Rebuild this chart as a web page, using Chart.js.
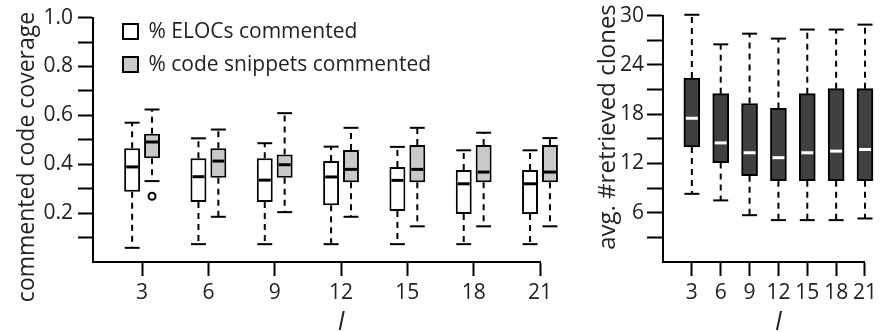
<!DOCTYPE html>
<html><head><meta charset="utf-8">
<script src="https://cdn.jsdelivr.net/npm/chart.js@4/dist/chart.umd.min.js"></script>
<style>
html,body{margin:0;padding:0;background:#fff;}
#wrap{position:relative;width:881px;height:332px;overflow:hidden;}
#c1{position:absolute;left:0;top:0;}
#c2{position:absolute;left:570px;top:0;}
</style></head><body>
<div id="wrap">
<canvas id="c1" width="570" height="332"></canvas>
<canvas id="c2" width="311" height="332"></canvas>
</div>
<script>
// ---- data ----
const lValues = [3, 6, 9, 12, 15, 18, 21];

// % ELOCs commented (white boxes)
const elocMin = [0.058, 0.073, 0.073, 0.073, 0.073, 0.073, 0.073];
const elocQ1  = [0.287, 0.245, 0.245, 0.232, 0.209, 0.196, 0.196];
const elocMed = [0.389, 0.349, 0.335, 0.348, 0.334, 0.320, 0.320];
const elocQ3  = [0.465, 0.425, 0.425, 0.413, 0.389, 0.376, 0.376];
const elocMax = [0.570, 0.506, 0.486, 0.472, 0.471, 0.457, 0.457];

// % code snippets commented (grey boxes)
const snipMin = [0.331, 0.185, 0.204, 0.185, 0.146, 0.146, 0.146];
const snipQ1  = [0.425, 0.345, 0.345, 0.326, 0.326, 0.326, 0.326];
const snipMed = [0.491, 0.413, 0.398, 0.379, 0.379, 0.368, 0.368];
const snipQ3  = [0.525, 0.465, 0.440, 0.458, 0.479, 0.479, 0.479];
const snipMax = [0.624, 0.542, 0.609, 0.549, 0.549, 0.529, 0.507];
const snipOutliers = [{ l: 3, value: 0.269 }];

// avg. #retrieved clones
const cloneMin = [8.3, 7.5, 5.7, 5.1, 5.1, 5.1, 5.3];
const cloneQ1  = [14.0, 12.1, 10.5, 9.9, 9.9, 9.9, 9.9];
const cloneMed = [17.5, 14.5, 13.3, 12.7, 13.3, 13.5, 13.7];
const cloneQ3  = [22.4, 20.5, 19.3, 18.7, 20.5, 21.1, 21.1];
const cloneMax = [30.1, 26.5, 27.8, 27.2, 28.3, 28.3, 28.9];

// tick labels
const leftYLabels  = [0.2, 0.4, 0.6, 0.8, 1.0];
const leftYMinor   = [0.1, 0.3, 0.5, 0.7, 0.9];
const rightYLabels = [6, 12, 18, 24, 30];
const rightYMinor  = [3, 9, 15, 21, 27];

const seriesLabels = ['% ELOCs commented', '% code snippets commented'];
const leftYTitle = 'commented code coverage';
const rightYTitle = 'avg. #retrieved clones';
const xTitle = 'l';

// ---- styling ----
const FONT = "'Open Sans', 'Noto Sans', sans-serif";
const TXT = '#222';

function boxData(q1, q3) { return lValues.map((l, i) => ({ x: l, y: [q1[i], q3[i]] })); }

const boxPlugin = {
  id: 'boxWhiskers',
  beforeDatasetsDraw(chart) {
    const ctx = chart.ctx, ys = chart.scales.y;
    chart.data.datasets.forEach((ds, di) => {
      if (!ds.stats) return;
      chart.getDatasetMeta(di).data.forEach((el, i) => {
        const { x, width } = el.getProps(['x', 'width'], true);
        const pMin = ys.getPixelForValue(ds.stats.min[i]);
        const pMax = ys.getPixelForValue(ds.stats.max[i]);
        const pQ1 = ys.getPixelForValue(ds.stats.q1[i]);
        const pQ3 = ys.getPixelForValue(ds.stats.q3[i]);
        ctx.save();
        ctx.strokeStyle = '#000'; ctx.lineWidth = 2;
        ctx.setLineDash([6, 5]);
        ctx.beginPath(); ctx.moveTo(x, pQ3); ctx.lineTo(x, pMax); ctx.stroke();
        ctx.beginPath(); ctx.moveTo(x, pQ1); ctx.lineTo(x, pMin); ctx.stroke();
        ctx.setLineDash([]);
        const hw = width / 2 - 0.5;
        ctx.beginPath(); ctx.moveTo(x - hw, pMax); ctx.lineTo(x + hw, pMax); ctx.stroke();
        ctx.beginPath(); ctx.moveTo(x - hw, pMin); ctx.lineTo(x + hw, pMin); ctx.stroke();
        ctx.restore();
      });
    });
  },
  afterDatasetsDraw(chart) {
    const ctx = chart.ctx, ys = chart.scales.y;
    chart.data.datasets.forEach((ds, di) => {
      if (!ds.stats) return;
      const els = chart.getDatasetMeta(di).data;
      els.forEach((el, i) => {
        const { x, width } = el.getProps(['x', 'width'], true);
        const pMed = ys.getPixelForValue(ds.stats.med[i]);
        ctx.save();
        ctx.strokeStyle = ds.medianColor; ctx.lineWidth = 3;
        ctx.beginPath(); ctx.moveTo(x - width / 2 + 2, pMed); ctx.lineTo(x + width / 2 - 2, pMed); ctx.stroke();
        ctx.restore();
      });
      (ds.outliers || []).forEach(o => {
        const el = els[lValues.indexOf(o.l)];
        if (!el) return;
        ctx.save();
        ctx.beginPath();
        ctx.arc(el.x, ys.getPixelForValue(o.value), 3.5, 0, Math.PI * 2);
        ctx.fillStyle = '#fff'; ctx.fill();
        ctx.lineWidth = 2; ctx.strokeStyle = '#000'; ctx.stroke();
        ctx.restore();
      });
    });
  }
};

const titlesPlugin = {
  id: 'axisTexts',
  afterDraw(chart, args, opts) {
    const ctx = chart.ctx, xs = chart.scales.x;
    ctx.save();
    ctx.fillStyle = TXT;
    ctx.save();
    ctx.translate(opts.yTitleX, opts.yTitleY);
    ctx.rotate(-Math.PI / 2);
    ctx.font = opts.yTitleSize + 'px ' + FONT;
    ctx.textAlign = 'center'; ctx.textBaseline = 'middle';
    ctx.fillText(opts.yTitle, 0, 0);
    ctx.restore();
    const cx = (xs.getPixelForValue(lValues[0]) + xs.getPixelForValue(lValues[lValues.length - 1])) / 2;
    ctx.font = 'italic 25px ' + FONT;
    ctx.textAlign = 'center'; ctx.textBaseline = 'alphabetic';
    ctx.fillText(xTitle, cx, opts.xTitleBaseline);
    ctx.restore();
  }
};

const legendPlace = {
  id: 'legendPlace',
  afterLayout(chart, args, opts) {
    const lg = chart.legend;
    if (!lg || !opts.enabled) return;
    const ca = chart.chartArea;
    const w = lg.width;
    lg.left = ca.left + opts.dx; lg.top = ca.top + opts.dy;
    lg.right = lg.left + w; lg.bottom = ca.bottom;
    lg.height = lg.bottom - lg.top; lg.width = w;
  }
};

function xAxis(min) {
  return {
    type: 'linear', min: min, max: 21, offset: false,
    afterBuildTicks: s => { s.ticks = lValues.map(v => ({ value: v })); },
    afterFit: s => { s.height = 70; },
    ticks: { autoSkip: false, maxRotation: 0, padding: 4, color: TXT, font: { family: FONT, size: 21 }, callback: v => String(v) },
    grid: { display: true, offset: false, drawOnChartArea: false, drawTicks: true, tickLength: 14, tickWidth: 2, tickColor: '#000' },
    border: { display: true, color: '#000', width: 2 }
  };
}
function yAxis(max, minor, labels, fmt, tickLen, pad) {
  return {
    min: 0, max: max,
    afterBuildTicks: s => { s.ticks = minor.concat(labels).sort((a, b) => a - b).map(v => ({ value: v })); },
    afterFit: s => { s.width = 93; },
    ticks: { autoSkip: false, padding: pad, color: TXT, font: { family: FONT, size: 21 },
             callback: v => labels.includes(v) ? fmt(v) : '' },
    grid: { display: true, offset: false, drawOnChartArea: false, drawTicks: true, tickLength: tickLen, tickWidth: 2, tickColor: '#000' },
    border: { display: true, color: '#000', width: 2 }
  };
}

// ---- left chart ----
new Chart(document.getElementById('c1'), {
  type: 'bar',
  data: {
    datasets: [
      {
        label: seriesLabels[0], data: boxData(elocQ1, elocQ3), clip: false,
        backgroundColor: '#ffffff', borderColor: '#000', borderWidth: 2, borderSkipped: false,
        medianColor: '#000',
        stats: { min: elocMin, q1: elocQ1, med: elocMed, q3: elocQ3, max: elocMax }
      },
      {
        label: seriesLabels[1], data: boxData(snipQ1, snipQ3), clip: false,
        backgroundColor: '#c9c9c9', borderColor: '#000', borderWidth: 2, borderSkipped: false,
        medianColor: '#000', outliers: snipOutliers,
        stats: { min: snipMin, q1: snipQ1, med: snipMed, q3: snipQ3, max: snipMax }
      }
    ]
  },
  options: {
    responsive: false, animation: false, devicePixelRatio: 1,
    categoryPercentage: 0.6, barPercentage: 0.8,
    layout: { padding: { left: 0, top: 15, right: 30, bottom: 0 } },
    scales: {
      x: xAxis(0.78),
      y: yAxis(1, leftYMinor, leftYLabels, v => v.toFixed(1), 15, 5)
    },
    plugins: {
      legend: {
        display: true, position: 'chartArea', align: 'start',
        labels: { boxWidth: 15, boxHeight: 15, padding: 12, color: TXT, font: { family: FONT, size: 21 } }
      },
      legendPlace: { enabled: true, dx: 18, dy: -8.5 },
      tooltip: { enabled: false },
      axisTexts: { yTitle: leftYTitle, yTitleX: 27, yTitleY: 157, yTitleSize: 23, xTitleBaseline: 330 }
    }
  },
  plugins: [boxPlugin, titlesPlugin, legendPlace]
});

// ---- right chart ----
new Chart(document.getElementById('c2'), {
  type: 'bar',
  data: {
    datasets: [{
      label: rightYTitle, data: boxData(cloneQ1, cloneQ3), clip: false,
      backgroundColor: '#404040', borderColor: '#000', borderWidth: 2, borderSkipped: false,
      barThickness: 16, medianColor: '#ffffff',
      stats: { min: cloneMin, q1: cloneQ1, med: cloneMed, q3: cloneQ3, max: cloneMax }
    }]
  },
  options: {
    responsive: false, animation: false, devicePixelRatio: 1,
    layout: { padding: { left: 0, top: 15, right: 11, bottom: 0 } },
    scales: {
      x: xAxis(0),
      y: yAxis(30, rightYMinor, rightYLabels, v => String(v), 16, 3)
    },
    plugins: {
      legend: { display: false },
      tooltip: { enabled: false },
      axisTexts: { yTitle: rightYTitle, yTitleX: 38, yTitleY: 127, yTitleSize: 24, xTitleBaseline: 330 }
    }
  },
  plugins: [boxPlugin, titlesPlugin]
});
</script>
</body></html>
